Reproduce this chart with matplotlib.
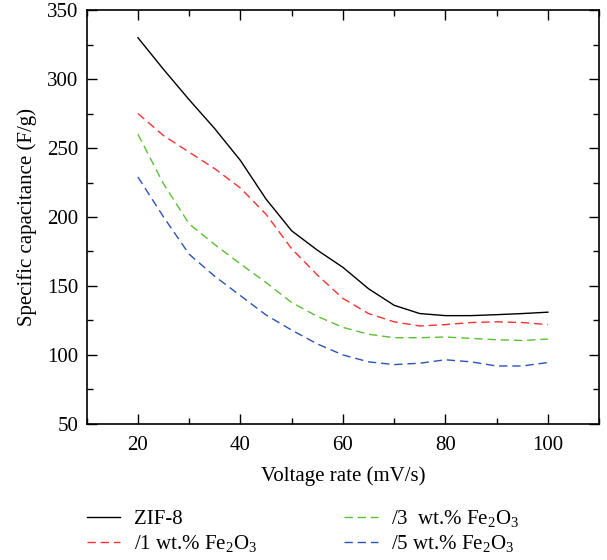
import matplotlib
matplotlib.use("Agg")
import matplotlib.pyplot as plt
from matplotlib.ticker import MultipleLocator

plt.rcParams["font.family"] = ["Liberation Serif", "DejaVu Serif"]
plt.rcParams["mathtext.fontset"] = "custom"
plt.rcParams["mathtext.rm"] = "Liberation Serif"
plt.rcParams["mathtext.it"] = "Liberation Serif:italic"
plt.rcParams["mathtext.bf"] = "Liberation Serif:bold"

# voltage rate (mV/s)
rate = [20, 25, 30, 35, 40, 45, 50, 55, 60, 65, 70, 75, 80, 85, 90, 95, 100]

# specific capacitance (F/g)
zif8 = [330, 307, 285, 264, 241, 213, 190, 176, 163.5, 148, 136, 130, 128.5, 128.5, 129.2, 130, 131]
fe1 = [275, 259, 247, 235, 221, 202, 177, 158, 141, 130, 124, 121, 122, 123.5, 124, 123.5, 122]
fe3 = [260, 224, 195, 180, 166, 152.5, 138, 128, 120, 115, 112.5, 112.5, 113, 112, 111, 110.5, 111.5]
fe5 = [229, 200, 173, 157, 143, 129, 118, 108, 100, 95, 93, 94, 96.5, 95, 92, 92, 94.5]

labels = ["ZIF-8", "/1 wt.% Fe$_2$O$_3$", "/3  wt.% Fe$_2$O$_3$", "/5 wt.% Fe$_2$O$_3$"]
colors = ["black", "#ff3030", "#5cbf35", "#2d52b5"]
styles = ["-", (0, (6, 3.5)), (0, (6, 3.5)), (0, (6, 3.5))]

fig = plt.figure(figsize=(6.07, 5.6), dpi=100)
ax = fig.add_axes([0.1428, 0.243, 0.8442, 0.739])

handles = []
for y, lab, c, ls in zip([zif8, fe1, fe3, fe5], labels, colors, styles):
    h, = ax.plot(rate, y, color=c, linestyle=ls, linewidth=1.0, label=lab)
    handles.append(h)

ax.set_xlim(10, 110)
ax.set_ylim(50, 350)
ax.xaxis.set_major_locator(MultipleLocator(20))
ax.xaxis.set_minor_locator(MultipleLocator(10))
ax.yaxis.set_major_locator(MultipleLocator(50))
ax.yaxis.set_minor_locator(MultipleLocator(25))
ax.tick_params(which="both", direction="in", top=True, right=True, labelsize=15)
ax.tick_params(which="major", length=7, width=1)
ax.tick_params(which="minor", length=4, width=1)
ax.tick_params(axis="x", which="both", pad=9)
ax.tick_params(axis="y", which="both", pad=6)
for s in ax.spines.values():
    s.set_linewidth(1.2)

ax.set_xlabel("Voltage rate (mV/s)", fontsize=15, labelpad=8)
ax.set_ylabel("Specific capacitance (F/g)", fontsize=15)
ax.yaxis.set_label_coords(-0.097, 0.5)

fig.legend(handles=handles, ncol=2, loc="upper left",
           bbox_to_anchor=(0.143, 1 - 508 / 560), frameon=False, borderpad=0,
           borderaxespad=0, fontsize=15, handlelength=1.6, handletextpad=0.65,
           columnspacing=4.2, labelspacing=0.2)

fig.savefig("out.png", dpi=100)
